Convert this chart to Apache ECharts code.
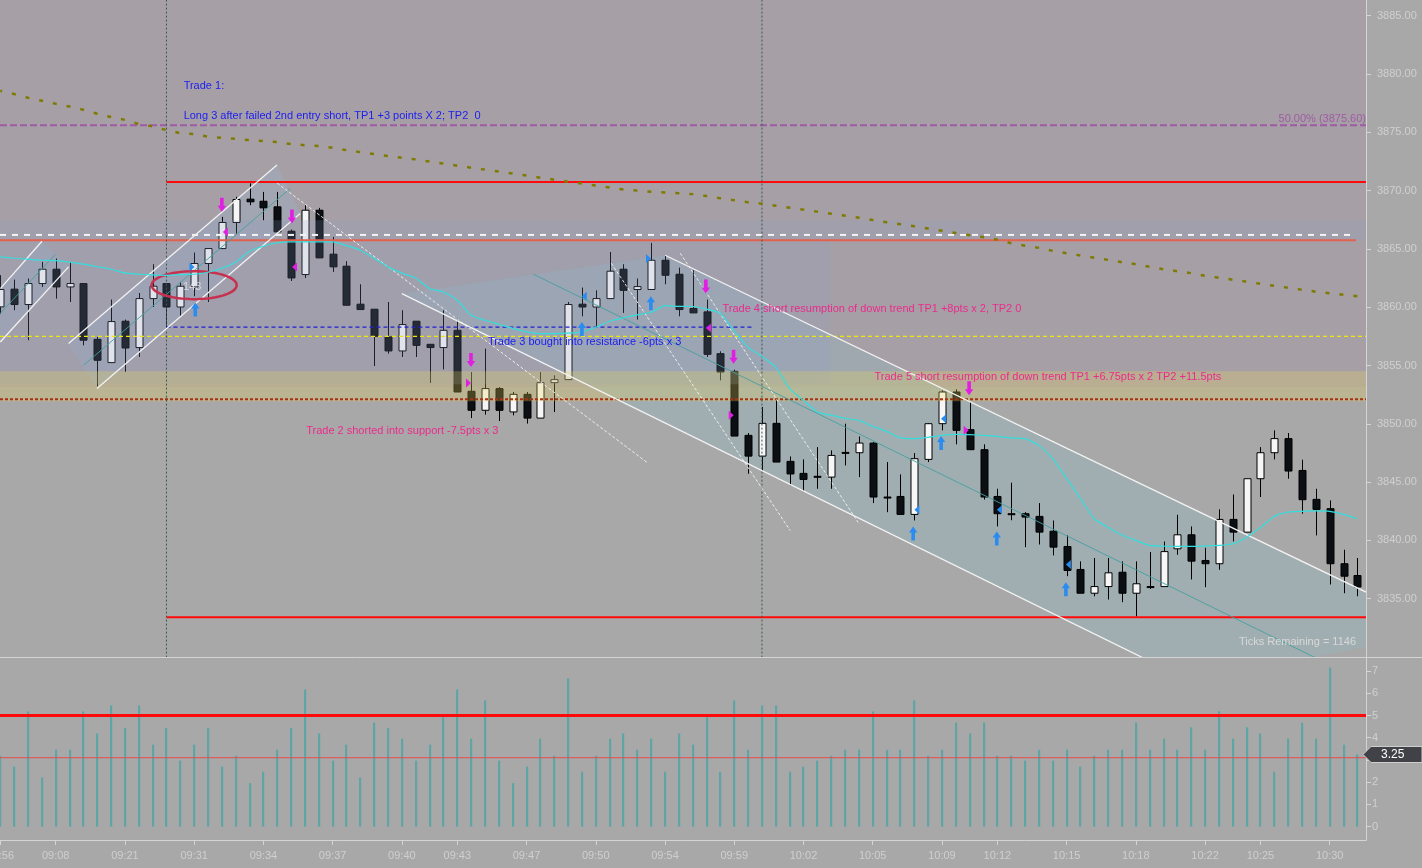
<!DOCTYPE html>
<html><head><meta charset="utf-8">
<script src="https://cdn.jsdelivr.net/npm/echarts@6/dist/echarts.min.js"></script>
<style>html,body{margin:0;padding:0;background:#a8a8a8;overflow:hidden}#c{width:1422px;height:868px}</style>
</head><body><div id="c"></div>
<script>
// ---------- DATA ----------
// candles: [open, close, low, high], one per bar (bar index = x value)
const ohlc = [
[3860.03,3861.52,3859.45,3862.75],[3861.55,3860.23,3859.74,3862.37],[3860.23,3862.03,3857.17,3862.46],[3862.03,3863.26,3861.74,3863.89],
[3863.26,3861.74,3860.74,3864.18],[3861.74,3862.03,3860.45,3863.89],[3862.03,3857.17,3856.73,3862.03],[3857.25,3855.45,3853.2,3857.45],
[3855.25,3858.77,3855.25,3860.66],[3858.8,3856.5,3854.45,3858.94],[3856.54,3860.74,3855.73,3861.22],[3860.74,3861.8,3860.02,3863.69],
[3862.03,3860.02,3858.17,3862.03],[3860.02,3861.8,3859.25,3862.17],[3861.74,3863.75,3860.94,3864.69],[3863.75,3865.03,3860.45,3865.03],
[3865.03,3867.27,3865.03,3867.75],[3867.27,3869.24,3866.32,3869.47],[3869.27,3869.04,3868.75,3870.62],[3869.09,3868.52,3867.46,3869.89],
[3868.61,3866.46,3866.46,3869.89],[3866.52,3862.51,3862.25,3866.67],[3862.8,3868.32,3862.51,3868.75],[3868.32,3864.23,3864.23,3868.52],
[3864.55,3863.46,3863.03,3866.03],[3863.52,3860.17,3860.17,3863.95],[3860.26,3859.8,3859.8,3861.97],[3859.83,3857.51,3854.96,3859.83],
[3857.45,3856.25,3856.02,3860.45],[3856.25,3858.51,3855.73,3859.74],[3858.8,3856.73,3855.73,3858.8],[3856.82,3856.54,3853.5,3856.82],
[3856.54,3858.02,3854.67,3859.74],[3858.02,3852.73,3852.73,3859.03],[3852.79,3851.16,3850.49,3854.44],[3851.16,3853.02,3850.79,3856.45],
[3853.02,3851.16,3850.24,3853.15],[3851.02,3852.53,3850.73,3852.73],[3852.53,3850.49,3850.02,3852.73],[3850.49,3853.53,3850.49,3854.44],
[3853.53,3853.79,3851.01,3854.16],[3853.79,3860.23,3853.79,3860.45],[3860.26,3860.02,3859.22,3861.69],[3860.02,3860.74,3858.31,3861.45],
[3860.74,3863.09,3860.74,3864.74],[3863.26,3861.45,3859.51,3863.69],[3861.52,3861.77,3858.94,3862.46],[3861.52,3864.03,3861.52,3865.52],
[3864.03,3862.74,3861.97,3864.46],[3862.83,3859.8,3859.22,3863.4],[3859.89,3859.51,3859.51,3863.17],[3859.6,3855.96,3855.73,3860.66],
[3856.02,3854.44,3853.73,3856.22],[3854.5,3848.95,3848.95,3854.65],[3849.01,3847.23,3845.72,3849.21],[3847.23,3850.04,3845.95,3851.44],
[3850.04,3846.72,3846.72,3852.01],[3846.78,3845.7,3844.72,3847.2],[3845.75,3845.23,3844.23,3846.95],[3845.5,3845.5,3844.43,3848.0],
[3845.43,3847.29,3844.43,3847.72],[3847.55,3847.55,3846.43,3850.01],[3847.52,3848.35,3845.43,3848.92],[3848.35,3843.72,3843.2,3848.43],
[3843.72,3843.72,3842.42,3846.72],[3843.77,3842.23,3842.23,3845.66],[3842.23,3847.01,3841.71,3847.49],[3846.95,3850.01,3846.72,3850.07],
[3850.01,3852.73,3849.44,3852.87],[3852.73,3849.44,3848.24,3852.96],[3849.5,3847.78,3847.78,3851.87],[3847.78,3843.72,3843.5,3848.24],
[3843.77,3842.29,3841.2,3844.43],[3842.29,3842.29,3841.73,3844.95],[3842.29,3842.0,3839.42,3842.43],[3842.06,3840.71,3839.65,3843.2],
[3840.79,3839.42,3838.71,3841.71],[3839.48,3837.42,3836.93,3840.43],[3837.51,3835.47,3835.47,3838.2],[3835.47,3836.04,3835.21,3838.49],
[3836.04,3837.22,3834.93,3838.49],[3837.27,3835.47,3834.7,3838.2],[3835.47,3836.28,3833.47,3838.2],[3836.04,3836.04,3835.84,3839.0],
[3836.04,3839.04,3836.04,3839.9],[3839.28,3840.48,3838.77,3842.2],[3840.48,3838.22,3836.65,3841.2],[3838.28,3838.0,3835.99,3839.37],
[3838.0,3841.8,3837.48,3842.66],[3841.8,3840.71,3839.91,3843.94],[3840.71,3845.29,3840.71,3845.29],[3845.29,3847.52,3843.72,3848.0],
[3847.52,3848.73,3846.95,3849.44],[3848.73,3845.95,3845.29,3849.21],[3846.0,3843.49,3842.29,3846.92],[3843.52,3842.66,3840.43,3844.43],
[3842.72,3838.0,3836.22,3843.43],[3838.0,3836.93,3835.47,3839.2],[3836.99,3836.0,3835.21,3838.49]
];
const maValues = [
3864.31,3864.20,3864.12,3864.03,3863.99,3863.86,3863.69,3863.47,3863.26,3862.94,
3862.83,3862.77,3862.74,3862.79,3862.83,3863.0,3863.34,3863.86,3864.80,3865.23,
3865.53,3865.60,3865.60,3865.60,3865.60,3865.28,3864.89,3864.20,3863.46,3862.92,
3862.49,3861.60,3861.31,3860.60,3859.31,3858.88,3858.54,3858.19,3857.89,3857.74,
3857.74,3857.77,3857.89,3858.28,3858.80,3859.10,3859.35,3859.57,3860.13,3860.08,
3860.06,3859.83,3859.48,3857.94,3856.56,3855.79,3854.85,3853.02,3852.01,3851.01,
3850.73,3850.47,3850.30,3849.78,3849.35,3848.79,3848.73,3848.84,3849.01,3849.10,
3849.07,3849.01,3848.92,3848.79,3848.73,3848.15,3847.01,3845.32,3843.60,3841.86,
3841.11,3840.47,3840.00,3839.57,3839.51,3839.48,3839.48,3839.52,3839.57,3839.71,
3840.28,3841.11,3842.06,3842.43,3842.49,3842.53,3842.49,3842.23,3841.86];
const slowMaValues = [
3878.56,3878.28,3877.96,3877.71,3877.45,3877.21,3876.93,3876.59,3876.31,3876.07,
3875.71,3875.51,3875.19,3874.93,3874.85,3874.62,3874.53,3874.44,3874.33,3874.25,
3874.16,3873.99,3873.90,3873.82,3873.67,3873.47,3873.30,3873.13,3872.96,3872.81,
3872.68,3872.49,3872.32,3872.14,3871.97,3871.80,3871.63,3871.46,3871.29,3871.11,
3870.94,3870.77,3870.60,3870.43,3870.26,3870.10,3870.00,3869.91,3869.84,3869.77,
3869.70,3869.53,3869.35,3869.18,3869.01,3868.88,3868.71,3868.54,3868.37,3868.20,
3868.02,3867.85,3867.68,3867.48,3867.29,3867.12,3866.95,3866.75,3866.56,3866.37,
3866.18,3866.01,3865.79,3865.49,3865.28,3865.09,3864.83,3864.63,3864.43,3864.25,
3864.06,3863.86,3863.69,3863.47,3863.26,3863.09,3862.92,3862.70,3862.53,3862.36,
3862.19,3862.01,3861.84,3861.67,3861.50,3861.33,3861.20,3861.07,3860.94];
const lowerValues = [
3.19,2.70,5.18,2.21,3.46,3.46,5.18,4.19,5.45,4.44,5.45,3.69,4.44,2.97,3.69,4.44,2.70,3.19,1.96,2.47,3.46,4.44,6.17,4.19,2.97,3.69,2.21,4.68,4.44,
3.96,2.97,3.69,4.94,6.17,3.96,5.68,2.97,1.96,2.70,3.96,3.19,6.67,2.47,3.19,3.96,4.19,3.46,3.96,2.47,4.19,3.69,4.94,2.47,5.68,3.46,5.45,5.45,2.47,
2.70,2.97,3.19,3.46,3.46,5.18,3.46,3.46,5.68,3.19,3.46,4.68,4.19,4.68,3.19,3.19,2.97,3.46,2.97,3.46,2.70,3.19,3.46,3.46,4.68,3.46,3.96,3.46,
4.47,3.46,5.19,3.96,4.47,4.19,2.47,3.96,4.67,3.96,7.15,3.69,3.25];
const lowerUpperLevel = 5;
const lowerAvgLevel = 3.1;
const lastLowerValue = 3.25;

const timeTickIdx = [0,4,9,14,19,24,29,33,38,43,48,53,58,63,68,72,77,82,87,91,96];
const timeTickLabels = ['08:56','09:08','09:21','09:31','09:34','09:37','09:40','09:43','09:47','09:50','09:54','09:59','10:02','10:05','10:09','10:12','10:15','10:18','10:22','10:25','10:30'];
const priceTicks = [3835,3840,3845,3850,3855,3860,3865,3870,3875,3880,3885];
const lowerTicks = [0,1,2,3,4,5,6,7];

// price levels [price, fromBar, toBar]
const redLevels = [[3870.75,12,98.62],[3833.4,12,98.62]];
const salmonLevels = [[3865.75,-0.02,97.9]];
const whiteDashLevels = [[3866.2,-0.02,97.9]];
const fibLevels = [[3875.6,-0.02,98.62]];
const yellowLevels = [[3857.5,-0.02,98.62]];
const supportLevels = [[3852.1,-0.02,98.62]];
const entryLevels = [[3858.3,12,54.35]];
const sessionBars = [12,55];

// zones [fromBar, toBar, priceTop, priceBottom]
const upperZone = [[-0.02,98.62,3886.35,3853.13]];
const boxZone = [[-0.02,59.95,3867.46,3853.39]];
const stripeZone = [[59.95,98.62,3867.46,3865.75]];
const tanZone = [[-0.02,98.62,3854.5,3851.93]];

// channels: points [bar, price]
const channelLines = [
  [0,3861.60,3.01,3865.66],[0,3857.02,4.93,3863.46],
  [4.93,3856.88,19.98,3872.19],[6.98,3853.02,21.66,3868.04],
  [48.01,3864.46,98.62,3835.57],[29.0,3861.17,98.62,3820.53]];
const channelMids = [[0,3859.48,3.97,3864.52],[6.01,3855.02,20.94,3870.19],[38.5,3862.83,98.62,3827.81]];
const trendDashes = [[20.0,3870.64,46.79,3846.61],[44.12,3863.77,57.04,3840.85],[49.1,3864.63,61.95,3841.54]];
const channelFillsUp = [
  [[0,3861.60],[3.01,3865.66],[4.93,3863.46],[0,3857.02]],
  [[4.93,3856.88],[19.98,3872.19],[21.66,3868.04],[6.98,3853.02]]];
const channelFillsDown = [
  [[29.0,3861.17],[48.01,3864.46],[98.62,3835.57],[98.62,3830.84],[85.83,3827.98]]];
const ellipses = [[14.0,3861.89,3.07,1.2]];

// trade markers [bar, price]
const shortArrows = [[16.0,3868.18],[21.06,3867.18],[33.99,3854.87],[50.95,3861.17],[52.95,3855.16],[69.96,3852.44]];
const shortFillsLeft = [[16.25,3866.46],[21.25,3863.46],[51.14,3858.22]];
const shortFillsRight = [[33.81,3853.5],[52.78,3850.73],[69.75,3849.44]];
const longArrows = [[14.08,3860.4],[42.0,3858.74],[46.98,3860.94],[67.94,3848.95],[65.92,3841.2],[71.96,3840.77],[76.95,3836.42]];
const longFillsLeft = [[42.17,3860.94],[68.11,3850.44],[66.19,3842.63],[72.15,3842.63],[77.13,3837.94]];
const longFillsRight = [[13.84,3863.46],[46.81,3864.18]];

// notes
const blueNotes = ['Trade 1:','Long 3 after failed 2nd entry short, TP1 +3 points X 2; TP2  0','Trade 3 bought into resistance -6pts x 3'];
const blueNotePos = [[13.24,3878.97],[13.24,3876.39],[35.21,3857.0]];
const pinkNotes = ['Trade 2 shorted into support -7.5pts x 3','Trade 4 short resumption of down trend TP1 +8pts x 2, TP2 0','Trade 5 short resumption of down trend TP1 +6.75pts x 2 TP2 +11.5pts'];
const pinkNotePos = [[22.09,3849.35],[52.15,3859.88],[63.13,3853.99]];
const fibNote = ['50.00% (3875.60)'];
const fibNotePos = [[98.62,3876.14]];
const tickNote = ['Ticks Remaining = 1146'];
const tickNotePos = [[97.9,3831.33]];
const ellipseNote = ['143'];
const ellipseNotePos = [[13.2,3861.71]];

// ---------- CHART ----------
const X_MIN = -0.02, X_MAX = 98.62;
const FONT = "'Liberation Sans', Arial, sans-serif";
const chart = echarts.init(document.getElementById('c'), null, {renderer:'canvas'});

function segSeries(name, segs, stroke, width, dash, z, gi) {
  return {type:'custom', name, xAxisIndex:gi||0, yAxisIndex:gi||0, z, clip:true, silent:true,
    data: segs,
    renderItem:(p, api) => {
      const a = api.coord([api.value(0), api.value(1)]);
      const b = api.coord([api.value(2), api.value(3)]);
      return {type:'line', shape:{x1:a[0],y1:a[1],x2:b[0],y2:b[1]}, style:{stroke, lineWidth:width, lineDash:dash||null, fill:null}};
    }};
}
function levelSeries(name, levels, stroke, width, dash, z, gi) {
  return segSeries(name, levels.map(l => [l[1], l[0], l[2], l[0]]), stroke, width, dash, z, gi);
}
function zoneSeries(name, zones, fill, z) {
  return {type:'custom', name, z, clip:true, silent:true, data: zones,
    renderItem:(p, api) => {
      const a = api.coord([api.value(0), api.value(2)]);
      const b = api.coord([api.value(1), api.value(3)]);
      return {type:'rect', shape:{x:a[0], y:a[1], width:b[0]-a[0], height:b[1]-a[1]}, style:{fill}};
    }};
}
function polySeries(name, polys, fill, z) {
  return {type:'custom', name, z, clip:true, silent:true, data: polys.map(pl => pl[0]),
    renderItem:(p, api) => ({type:'polygon', shape:{points: polys[p.dataIndex].map(pt => api.coord(pt))}, style:{fill}})};
}
function markerSeries(name, pts, shape, color, z) {
  return {type:'custom', name, z, clip:false, silent:true, data: pts,
    renderItem:(p, api) => {
      const c = api.coord([api.value(0), api.value(1)]);
      const x = c[0], y = c[1];
      let pts2;
      if (shape === 'down') pts2 = [[x-1.8,y-14],[x+1.8,y-14],[x+1.8,y-6],[x+4.2,y-6],[x,y],[x-4.2,y-6],[x-1.8,y-6]];
      else if (shape === 'up') pts2 = [[x-1.8,y+14],[x+1.8,y+14],[x+1.8,y+6],[x+4.2,y+6],[x,y],[x-4.2,y+6],[x-1.8,y+6]];
      else if (shape === 'left') pts2 = [[x-2.5,y],[x+2.5,y-4.5],[x+2.5,y+4.5]];
      else pts2 = [[x+2.5,y],[x-2.5,y-4.5],[x-2.5,y+4.5]];
      return {type:'polygon', shape:{points:pts2}, style:{fill:color}};
    }};
}
function noteSeries(name, texts, pos, color, align, z, size) {
  return {type:'custom', name, z, clip:false, silent:true, data: pos,
    renderItem:(p, api) => {
      const c = api.coord([api.value(0), api.value(1)]);
      return {type:'text', x:c[0], y:c[1], style:{text: texts[p.dataIndex], fill:color, font:(size||11)+'px '+FONT, align, verticalAlign:'middle'}};
    }};
}

const series = [
  zoneSeries('upperZone', upperZone, '#a6a0a6', 1),
  zoneSeries('stripeZone', stripeZone, 'rgba(140,155,195,0.2)', 1),
  polySeries('channelUpFill', channelFillsUp, 'rgba(150,185,225,0.22)', 2),
  polySeries('channelDownFill', channelFillsDown, 'rgba(140,190,205,0.25)', 2),
  {type:'custom', name:'Price', z:3, clip:true, silent:true,
    data: ohlc.map((d, i) => [i, d[0], d[1], d[2], d[3]]),
    renderItem:(p, api) => {
      const i = api.value(0), o = api.value(1), c = api.value(2), l = api.value(3), h = api.value(4);
      const top = api.coord([i, Math.max(o, c)]), bot = api.coord([i, Math.min(o, c)]);
      const hi = api.coord([i, h]), lo = api.coord([i, l]);
      const x = Math.round(top[0]) + 0.5;
      const bh = Math.max(1, bot[1] - top[1]);
      return {type:'group', children:[
        {type:'line', shape:{x1:x, y1:hi[1], x2:x, y2:lo[1]}, style:{stroke:'#000', lineWidth:1}},
        {type:'rect', shape:{x:x-3.5, y:top[1], width:7, height:bh}, style:{fill: c > o ? '#f6f6f6' : '#0b0f13', stroke:'#000', lineWidth:1}}
      ]};
    }},
  zoneSeries('boxZone', boxZone, 'rgba(140,155,195,0.2)', 4),
  zoneSeries('tanZone', tanZone, 'rgba(235,215,90,0.27)', 4),
  levelSeries('fib', fibLevels, '#a05aa5', 2, [7,3], 5),
  levelSeries('red', redLevels, '#ff0a0a', 2, null, 5),
  levelSeries('whiteDash', whiteDashLevels, '#f4f4f4', 2, [6,6], 5),
  levelSeries('salmon', salmonLevels, '#e4604e', 2, null, 5),
  levelSeries('entry', entryLevels, '#2020d8', 1.2, [4,3], 5),
  levelSeries('yellow', yellowLevels, '#f0e800', 1.3, [4,3], 5),
  levelSeries('support', supportLevels, '#a83010', 2, [3,2], 5),
  segSeries('session', sessionBars.map(b => [b, 3820, b, 3890]), '#3a5852', 1, [2,2], 5),
  segSeries('channelLines', channelLines, '#f2f2f2', 1.3, null, 5),
  segSeries('channelMids', channelMids, 'rgba(70,160,160,0.9)', 1, null, 5),
  segSeries('trendDashes', trendDashes, 'rgba(245,245,245,0.9)', 1, [3,2], 5),
  {type:'custom', name:'ellipse', z:5, clip:true, silent:true, data: ellipses,
    renderItem:(p, api) => {
      const c = api.coord([api.value(0), api.value(1)]);
      const rx = api.coord([api.value(0)+api.value(2), api.value(1)])[0] - c[0];
      const ry = c[1] - api.coord([api.value(0), api.value(1)+api.value(3)])[1];
      const pts = [];
      for (let k = 0; k < 60; k++) { const t = k/60*Math.PI*2; pts.push([c[0]+rx*Math.cos(t), c[1]+ry*Math.sin(t)]); }
      return {type:'polygon', shape:{points:pts}, style:{fill:null, stroke:'#c83050', lineWidth:2.5}};
    }},
  {type:'line', name:'MA fast', xAxisIndex:0, yAxisIndex:0, z:5, silent:true, symbol:'none', smooth:0.2,
    data: maValues.map((v, i) => [i, v]), lineStyle:{color:'#34dede', width:1.2}},
  {type:'line', name:'MA slow', xAxisIndex:0, yAxisIndex:0, z:5, silent:true, symbol:'none',
    data: slowMaValues.map((v, i) => [i, v]), lineStyle:{color:'#7f7a00', width:2.5, type:[4,10], dashOffset:2}},
  markerSeries('shortArrows', shortArrows, 'down', '#e21ee2', 6),
  markerSeries('shortFillsL', shortFillsLeft, 'left', '#e21ee2', 6),
  markerSeries('shortFillsR', shortFillsRight, 'right', '#e21ee2', 6),
  markerSeries('longArrows', longArrows, 'up', '#2a8cf0', 6),
  markerSeries('longFillsL', longFillsLeft, 'left', '#2a8cf0', 6),
  markerSeries('longFillsR', longFillsRight, 'right', '#2a8cf0', 6),
  noteSeries('blueNotes', blueNotes, blueNotePos, '#1c1cf0', 'left', 7),
  noteSeries('pinkNotes', pinkNotes, pinkNotePos, '#ec2a8c', 'left', 7),
  noteSeries('fibNote', fibNote, fibNotePos, '#a05aa5', 'right', 7),
  noteSeries('tickNote', tickNote, tickNotePos, '#d8d8d8', 'right', 7),
  noteSeries('ellipseNote', ellipseNote, ellipseNotePos, 'rgba(235,235,235,0.75)', 'left', 7),
  // lower panel
  {type:'custom', name:'Lower', xAxisIndex:1, yAxisIndex:1, z:3, clip:true, silent:true,
    data: lowerValues.map((v, i) => [i, v]),
    renderItem:(p, api) => {
      const a = api.coord([api.value(0), api.value(1)]);
      const b = api.coord([api.value(0), 0]);
      return {type:'rect', shape:{x:Math.round(a[0])-1, y:a[1], width:2.2, height:b[1]-a[1]}, style:{fill:'#5fa5a5'}};
    }},
  levelSeries('lowerUpper', [[lowerUpperLevel, X_MIN, X_MAX]], '#ff0a0a', 3, null, 4, 1),
  levelSeries('lowerAvg', [[lowerAvgLevel, X_MIN, X_MAX]], '#e44c4c', 1, null, 4, 1),
  {type:'custom', name:'lastValue', xAxisIndex:1, yAxisIndex:1, z:8, clip:false, silent:true,
    data: [[X_MAX, lastLowerValue]],
    renderItem:(p, api) => {
      const c = api.coord([api.value(0), api.value(1)]);
      const x = c[0] - 3, y = Math.round(c[1]) + 0.5;
      return {type:'group', children:[
        {type:'polygon', shape:{points:[[x,y],[x+8,y-8],[1422,y-8],[1422,y+8],[x+8,y+8]]}, style:{fill:'#414148', stroke:'#cfcfcf', lineWidth:1}},
        {type:'text', x:x+18, y:y, style:{text: lastLowerValue.toFixed(2), fill:'#ffffff', font:'12px '+FONT, verticalAlign:'middle', align:'left'}}
      ]};
    }}
];

const axisGray = '#d4d4d4';
chart.setOption({
  animation:false,
  backgroundColor:'#a8a8a8',
  grid:[{left:0, right:56, top:0, height:657, outerBoundsMode:'none', containLabel:false},
        {left:0, right:56, top:657, bottom:28, outerBoundsMode:'none', containLabel:false}],
  xAxis:[
    {type:'value', gridIndex:0, min:X_MIN, max:X_MAX, show:false, axisLine:{onZero:false}},
    {type:'value', gridIndex:1, min:X_MIN, max:X_MAX,
      axisLine:{show:true, onZero:false, lineStyle:{color:axisGray, width:1}},
      axisTick:{show:true, customValues:timeTickIdx, length:5, lineStyle:{color:axisGray}},
      axisLabel:{customValues:timeTickIdx, color:'#cfcfcf', fontSize:11, fontFamily:FONT, margin:10,
        formatter:v => { const k = timeTickIdx.indexOf(Math.round(v)); return k >= 0 ? timeTickLabels[k] : ''; }},
      splitLine:{show:false}}
  ],
  yAxis:[
    {type:'value', gridIndex:0, position:'right', min:3830, max:3886.35,
      axisLine:{show:true, onZero:false, lineStyle:{color:axisGray}},
      axisTick:{show:true, customValues:priceTicks, length:5, lineStyle:{color:axisGray}},
      axisLabel:{customValues:priceTicks, color:'#d0d0d0', fontSize:11, fontFamily:FONT, margin:11, formatter:v => v.toFixed(2)},
      splitLine:{show:false}},
    {type:'value', gridIndex:1, position:'right', min:-0.6, max:7.63,
      axisLine:{show:true, onZero:false, lineStyle:{color:axisGray}},
      axisTick:{show:true, customValues:lowerTicks, length:5, lineStyle:{color:axisGray}},
      axisLabel:{customValues:lowerTicks, color:'#d0d0d0', fontSize:11, fontFamily:FONT, margin:6, formatter:v => String(v)},
      splitLine:{show:false}}
  ],
  graphic:[{type:'line', shape:{x1:0, y1:657.5, x2:1422, y2:657.5}, style:{stroke:axisGray, lineWidth:1}, z:100}],
  series
});
</script></body></html>
